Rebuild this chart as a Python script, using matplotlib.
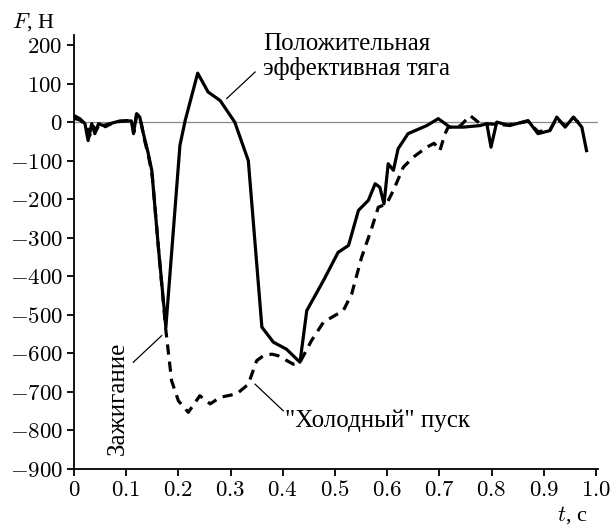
import matplotlib
matplotlib.use("Agg")
import matplotlib.pyplot as plt
from matplotlib.ticker import FixedLocator, FuncFormatter

plt.rcParams['mathtext.fontset'] = 'cm'
plt.rcParams['font.family'] = ['Liberation Serif', 'DejaVu Serif']

# Solid curve: positive effective thrust
t_solid = [0, 0.011, 0.021, 0.027, 0.034, 0.040, 0.047, 0.056, 0.069, 0.088, 0.110, 0.114,
           0.120, 0.126, 0.133, 0.142, 0.149, 0.162, 0.176, 0.203, 0.213, 0.237, 0.257,
           0.280, 0.308, 0.334, 0.360, 0.382, 0.407, 0.433, 0.446, 0.478, 0.506, 0.526,
           0.545, 0.564, 0.577, 0.586, 0.594, 0.602, 0.612, 0.621, 0.640, 0.676, 0.698,
           0.720, 0.746, 0.778, 0.791, 0.799, 0.810, 0.835, 0.870, 0.889, 0.912, 0.925,
           0.941, 0.957, 0.973, 0.982]
F_solid = [17, 9, -4, -48, -4, -30, -4, -9, -4, 3, 3, -30,
           22, 13, -30, -80, -125, -330, -532, -60, 4, 127, 78,
           56, 0, -100, -532, -571, -589, -623, -489, -411, -338, -320,
           -229, -203, -160, -169, -212, -108, -125, -69, -30, -9, 9,
           -13, -13, -9, -4, -65, 0, -9, 4, -30, -22, 13,
           -13, 13, -13, -74]

# Dashed curve: "cold" start
t_dash = [0, 0.012, 0.024, 0.030, 0.036, 0.043, 0.050, 0.060, 0.075, 0.090, 0.110, 0.115,
          0.120, 0.127, 0.134, 0.143, 0.150, 0.163, 0.176, 0.187, 0.200, 0.219, 0.241,
          0.261, 0.280, 0.312, 0.334, 0.350, 0.363, 0.379, 0.391, 0.420, 0.433, 0.455,
          0.478, 0.516, 0.532, 0.551, 0.570, 0.583, 0.599, 0.612, 0.631, 0.650, 0.676,
          0.690, 0.701, 0.711, 0.717, 0.740, 0.759, 0.778, 0.800, 0.830, 0.870, 0.889,
          0.912, 0.925, 0.941, 0.957, 0.973]
F_dash = [10, 5, -10, -35, -10, -20, -2, -12, -2, 2, 5, -25,
          20, 10, -40, -90, -140, -345, -540, -671, -723, -753, -710,
          -731, -714, -705, -680, -619, -606, -602, -606, -628, -623, -567,
          -519, -489, -446, -351, -277, -221, -212, -177, -117, -91, -65,
          -55, -74, -30, -13, -10, 17, -4, -5, -8, 2, -25,
          -20, 10, -10, 12, -10]

x_ticks = [0, 0.1, 0.2, 0.3, 0.4, 0.5, 0.6, 0.7, 0.8, 0.9, 1.0]
x_tick_labels = ['0', '0.1', '0.2', '0.3', '0.4', '0.5', '0.6', '0.7', '0.8', '0.9', '1.0']
y_ticks = [200, 100, 0, -100, -200, -300, -400, -500, -600, -700, -800, -900]

fig = plt.figure(figsize=(6.16, 5.25), dpi=100)
ax = fig.add_axes([74/616, 1 - 469/525, (598 - 74)/616, (469 - 35)/525])

ax.axhline(0, color='#888888', lw=0.9, zorder=1)
ax.plot(t_dash, F_dash, color='black', lw=2.3, linestyle=(0, (3.2, 2.2)), zorder=2)
ax.plot(t_solid, F_solid, color='black', lw=2.3, zorder=3)

ax.set_xlim(0, 1.004)
ax.set_ylim(-900, 226)
ax.spines['top'].set_visible(False)
ax.spines['right'].set_visible(False)
for s in ('left', 'bottom'):
    ax.spines[s].set_linewidth(1.3)

ax.xaxis.set_major_locator(FixedLocator(x_ticks))
ax.set_xticklabels(['$' + s + '$' for s in x_tick_labels])
ax.yaxis.set_major_locator(FixedLocator(y_ticks))
ax.yaxis.set_major_formatter(FuncFormatter(lambda v, p: '$%d$' % v))
ax.tick_params(direction='out', length=5, width=1.3, labelsize=16.5, pad=3)

fig.text(12/616, 1 - 22/525, '$F$, Н', fontsize=16, va='center', ha='left')
fig.text(587/616, 1 - 515/525, '$t$, с', fontsize=16, va='center', ha='right')

txt_kw = dict(fontsize=18, color='black')
ax.text(0.362, 187, 'Положительная', va='baseline', ha='left', **txt_kw)
ax.text(0.362, 122, 'эффективная тяга', va='baseline', ha='left', **txt_kw)
ax.plot([0.2925, 0.347], [61, 130], color='black', lw=0.9, clip_on=False)

ax.text(0.0833, -716, 'Зажигание', rotation=90, va='center', ha='center', **txt_kw)
ax.plot([0.1136, 0.168], [-623, -554], color='black', lw=0.9)

ax.text(0.404, -791, '"Холодный" пуск', va='baseline', ha='left', **txt_kw)
ax.plot([0.347, 0.401], [-680, -749], color='black', lw=0.9)

fig.savefig('out.png', dpi=100)
